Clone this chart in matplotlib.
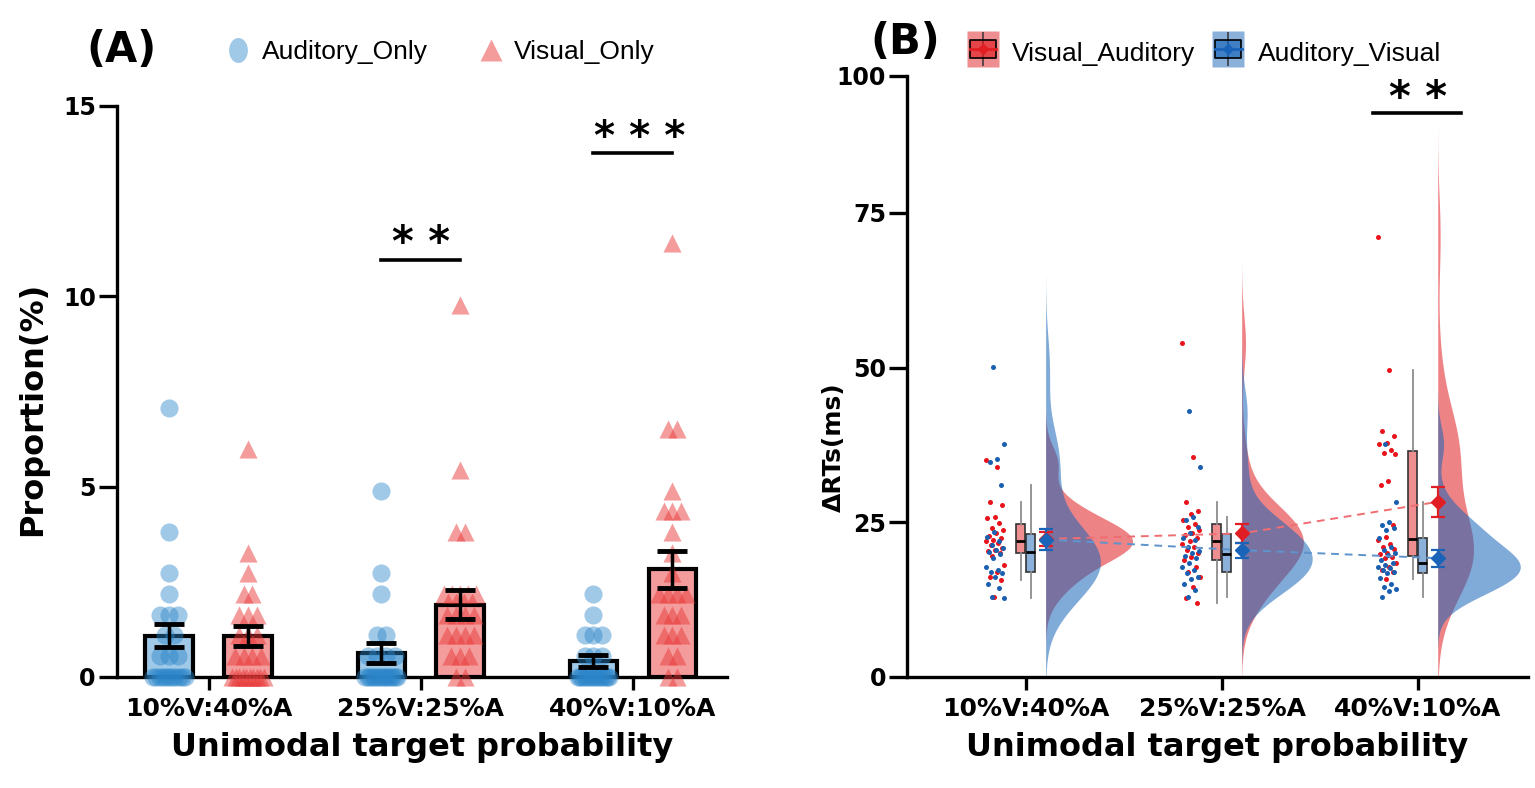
import numpy as np
import matplotlib.pyplot as plt
from matplotlib import mlab
from matplotlib.lines import Line2D
from matplotlib.path import Path
from matplotlib.transforms import Affine2D
from matplotlib.legend_handler import HandlerTuple
from matplotlib.font_manager import FontProperties
from matplotlib.colors import to_rgba

categories = ['10%V:40%A', '25%V:25%A', '40%V:10%A']

# ---- panel A : proportion of unimodal responses (%) ----
aud_only = [
    [7.07, 3.80, 2.72, 2.17, 1.63, 1.63, 1.63, 1.09, 1.09, 0.54, 0.54, 0.54,
     0, 0, 0, 0, 0, 0, 0, 0, 0, 0, 0],
    [4.89, 2.72, 2.17, 1.09, 1.09, 0.54, 0.54, 0.54, 0.54,
     0, 0, 0, 0, 0, 0, 0, 0, 0, 0, 0, 0, 0, 0],
    [2.17, 1.63, 1.09, 1.09, 1.09, 0.54, 0.54, 0.54,
     0, 0, 0, 0, 0, 0, 0, 0, 0, 0, 0, 0, 0, 0],
]
vis_only = [
    [5.98, 3.26, 2.72, 2.17, 2.17, 1.63, 1.63, 1.63, 1.09, 1.09, 1.09,
     0.54, 0.54, 0.54, 0.54, 0, 0, 0, 0, 0, 0, 0, 0, 0, 0],
    [9.78, 5.43, 3.80, 3.80, 2.17, 2.17, 2.17, 2.17, 2.17, 1.63, 1.63, 1.63,
     1.63, 1.09, 1.09, 1.09, 1.09, 0.54, 0.54, 0.54, 0, 0],
    [11.41, 6.52, 6.52, 4.89, 4.35, 4.35, 4.35, 3.80, 3.26, 2.72, 2.17, 2.17,
     2.17, 2.17, 1.63, 1.63, 1.63, 1.09, 1.09, 1.09, 0.54, 0.54, 0, 0],
]
aud_mean = [1.08, 0.63, 0.41]
aud_sem = [0.30, 0.25, 0.16]
vis_mean = [1.08, 1.90, 2.83]
vis_sem = [0.27, 0.39, 0.48]

# ---- panel B : delta RTs (ms) ----
va_rt = [
    [35.1, 34.0, 28.2, 27.8, 25.9, 25.7, 24.9, 24.1, 23.7, 23.2, 22.8, 22.4, 22.2,
     21.9, 21.6, 21.3, 20.8, 20.5, 20.3, 20.0, 19.6, 18.1, 17.0, 16.2, 15.7, 13.0],
    [53.9, 35.6, 28.2, 26.9, 26.4, 25.4, 24.8, 24.3, 23.7, 23.2, 22.9, 22.4, 21.9,
     21.5, 21.0, 20.5, 20.0, 19.4, 18.9, 17.8, 17.0, 16.2, 14.6, 12.7, 11.9],
    [71.1, 49.6, 39.7, 38.9, 37.8, 37.6, 36.7, 36.2, 36.1, 31.7, 31.0, 24.5, 22.6,
     22.1, 21.5, 21.0, 20.7, 20.0, 19.8, 19.4, 19.2, 18.4, 17.8, 17.3, 17.0, 15.9],
]
av_rt = [
    [50.1, 37.6, 35.3, 34.8, 31.0, 23.4, 22.7, 21.9, 21.4, 20.8, 20.5, 20.2, 19.9,
     19.3, 17.8, 17.3, 17.0, 16.8, 16.2, 15.1, 14.3, 13.0, 12.7],
    [43.0, 34.0, 25.8, 25.4, 24.3, 23.2, 22.5, 22.1, 21.0, 20.4, 20.0, 19.6, 19.2,
     18.4, 17.8, 17.3, 16.8, 16.2, 15.9, 15.1, 14.1, 13.0],
    [37.6, 28.2, 25.1, 24.6, 24.0, 23.8, 22.4, 21.0, 20.5, 20.0, 19.7, 18.9, 18.4,
     18.1, 17.8, 17.6, 17.3, 17.0, 16.8, 16.0, 15.1, 14.6, 14.2, 13.9, 13.0],
]
va_mean = [22.3, 23.2, 28.3]
va_sem = [1.1, 1.5, 2.45]
av_mean = [22.2, 20.5, 19.2]
av_sem = [1.75, 1.2, 1.35]

BLUE = '#2C86CA'
RED = '#EA3B3B'
DOT_RED = '#E8141B'
DOT_BLUE = '#1B5FB0'
VRED = '#E11E23'
VBLUE = '#1964B9'

plt.rcParams['font.family'] = ['DejaVu Sans']
plt.rcParams['font.weight'] = 'bold'
plt.rcParams['axes.labelweight'] = 'bold'

fig = plt.figure(figsize=(15.35, 7.88), dpi=100)
axA = fig.add_axes([0.0760, 0.1409, 0.3976, 0.7246])
axB = fig.add_axes([0.5909, 0.1409, 0.4046, 0.7627])


def style_axis(ax):
    for s in ['top', 'right']:
        ax.spines[s].set_visible(False)
    for s in ['left', 'bottom']:
        ax.spines[s].set_linewidth(2.4)
    ax.tick_params(axis='y', length=13, width=2.4, labelsize=17, pad=2)
    ax.tick_params(axis='x', length=9.5, width=2.4, labelsize=18, pad=5)


def stack_offsets(vals, step, maxw):
    vals = np.asarray(vals)
    offs = np.zeros(len(vals))
    for u in np.unique(vals):
        idx = np.where(vals == u)[0]
        spread = min((len(idx) - 1) * step, maxw)
        offs[idx] = np.linspace(-spread / 2, spread / 2, len(idx))
    return offs


# ---------------- panel A ----------------
x = np.arange(len(categories))
off = 0.186
bar_w = 0.224
axA.bar(x - off, aud_mean, width=bar_w, facecolor=to_rgba(BLUE, 0.45),
        edgecolor='black', linewidth=3, zorder=2)
axA.bar(x + off, vis_mean, width=bar_w, facecolor=to_rgba(RED, 0.5),
        edgecolor='black', linewidth=3, zorder=2)
for i in range(len(categories)):
    a = np.array(aud_only[i])
    v = np.array(vis_only[i])
    axA.scatter(i - off + stack_offsets(a, 0.042, 0.15), a, s=170, marker='o',
                color=BLUE, alpha=0.45, linewidths=0, zorder=3, clip_on=False)
    axA.scatter(i + off + stack_offsets(v, 0.042, 0.15), v, s=170, marker='^',
                color=RED, alpha=0.5, linewidths=0, zorder=3, clip_on=False)
axA.errorbar(x - off, aud_mean, yerr=aud_sem, fmt='none', ecolor='black',
             elinewidth=2.5, capsize=11, capthick=3.5, zorder=5)
axA.errorbar(x + off, vis_mean, yerr=vis_sem, fmt='none', ecolor='black',
             elinewidth=2.5, capsize=11, capthick=3.5, zorder=5)

# significance marks
axA.plot([1 - off, 1 + off], [10.95, 10.95], color='black', lw=2.6)
axA.text(1, 11.05, '* *', ha='center', va='baseline', fontsize=30)
axA.plot([2 - off, 2 + off], [13.76, 13.76], color='black', lw=2.6)
axA.text(2.03, 13.86, '* * *', ha='center', va='baseline', fontsize=29)

axA.set_xlim(-0.433, 2.443)
axA.set_ylim(0, 15)
axA.set_yticks([0, 5, 10, 15])
axA.set_xticks(x)
axA.set_xticklabels(categories)
style_axis(axA)
axA.set_ylabel('Proportion(%)', fontsize=23)
axA.yaxis.set_label_coords(-0.112, 0.47)
axA.set_xlabel('Unimodal target probability', fontsize=23, labelpad=8)

# ---------------- panel B ----------------
def fwd(v):
    v = np.asarray(v, dtype=float)
    return np.where(v <= 75, v, 75 + (v - 75) * 0.885)


def inv(u):
    u = np.asarray(u, dtype=float)
    return np.where(u <= 75, u, 75 + (u - 75) / 0.885)


axB.set_yscale('function', functions=(fwd, inv))

dot_off = -0.158
box_off = [-0.028, 0.023]
mean_off = 0.10
violin_scale = 5.3
for i in range(len(categories)):
    for k, (data, dcol, vcol) in enumerate([(va_rt[i], DOT_RED, VRED),
                                            (av_rt[i], DOT_BLUE, VBLUE)]):
        data = np.array(data)
        # half violin from the library KDE
        kde = mlab.GaussianKDE(data, 'scott')
        bw = kde.factor * data.std(ddof=1)
        grid = np.linspace(max(0, data.min() - 3 * bw),
                           min(100, data.max() + 3 * bw), 300)
        dens = kde.evaluate(grid)
        axB.fill_betweenx(grid, i + mean_off, i + mean_off + dens * violin_scale,
                          color=vcol, alpha=0.55, lw=0, zorder=1)
        # jittered raw points
        j = np.arange(len(data))
        jit = (((j * 0.618034 + 0.37 * k) % 1) * 2 - 1) * 0.048
        axB.scatter(i + dot_off + jit, data, s=13, color=dcol, linewidths=0,
                    zorder=3)
        # box
        axB.boxplot([data], positions=[i + box_off[k]], widths=0.044,
                    patch_artist=True, showcaps=False, showfliers=False,
                    manage_ticks=False,
                    boxprops=dict(facecolor=to_rgba(vcol, 0.5),
                                  edgecolor='#333333', linewidth=1.2),
                    medianprops=dict(color='black', linewidth=2),
                    whiskerprops=dict(color='#8C8C8C', linewidth=1.3),
                    zorder=4)

xm = x + mean_off
axB.plot(xm, va_mean, ls=(0, (4, 3)), color='#EE6E72', lw=1.4, zorder=5)
axB.plot(xm, av_mean, ls=(0, (4, 3)), color='#5E93CC', lw=1.4, zorder=5)
axB.errorbar(xm, va_mean, yerr=va_sem, fmt='D', color=VRED, ms=7,
             elinewidth=1.6, capsize=5, capthick=1.6, zorder=6)
axB.errorbar(xm, av_mean, yerr=av_sem, fmt='D', color=VBLUE, ms=7,
             elinewidth=1.6, capsize=5, capthick=1.6, zorder=6)

axB.plot([2 - 0.23, 2 + 0.22], [93.2, 93.2], color='black', lw=2.6)
axB.text(2, 93.6, '* *', ha='center', va='baseline', fontsize=30)

axB.set_xlim(-0.607, 2.561)
axB.set_ylim(0, 100)
axB.set_yticks([0, 25, 50, 75, 100])
axB.set_xticks(x)
axB.set_xticklabels(categories)
style_axis(axB)
axB.set_ylabel('\u0394RTs(ms)', fontsize=18)
axB.yaxis.set_label_coords(-0.098, 0.383)
axB.set_xlabel('Unimodal target probability', fontsize=23, labelpad=8)

# ---------------- labels & legends ----------------
fig.text(121 / 1535, 1 - 50 / 788, '(A)', ha='center', va='center',
         fontsize=30, weight='bold')
fig.text(905 / 1535, 1 - 42 / 788, '(B)', ha='center', va='center',
         fontsize=30, weight='bold')

leg_font = FontProperties(family=['Liberation Sans', 'DejaVu Sans'],
                          size=19, weight='normal')
ellipse = Path.unit_circle().transformed(Affine2D().scale(0.75, 1.0))
hA = [Line2D([], [], ls='none', marker=ellipse, ms=18, mfc=to_rgba(BLUE, 0.45),
             mec='none'),
      Line2D([], [], ls='none', marker='^', ms=16, mfc=to_rgba(RED, 0.5),
             mec='none')]
fig.legend(hA, ['Auditory_Only', 'Visual_Only'], loc='center left',
           bbox_to_anchor=(229 / 1535, 1 - 52 / 788), ncol=2, frameon=False,
           prop=leg_font, handlelength=0.68, handletextpad=0.55,
           columnspacing=2.05, borderpad=0, borderaxespad=0)


def rect_path(w, h):
    return Path([(-w, -h), (w, -h), (w, h), (-w, h), (-w, -h)],
                [Path.MOVETO, Path.LINETO, Path.LINETO, Path.LINETO,
                 Path.CLOSEPOLY])


def box_handle(col):
    return (Line2D([], [], ls='none', marker=rect_path(0.86, 1.0), ms=26.5,
                   mfc=to_rgba(col, 0.5), mec='none'),
            Line2D([], [], ls='none', marker='|', ms=25, mew=1.1, color='#333333'),
            Line2D([], [], ls='none', marker=rect_path(1.0, 0.7), ms=19,
                   mfc=to_rgba(col, 0.65), mec='black', mew=1.2),
            Line2D([], [], color=col, lw=2, marker='D', ms=5))


fig.legend([box_handle(VRED), box_handle(VBLUE)],
           ['Visual_Auditory', 'Auditory_Visual'], loc='center left',
           bbox_to_anchor=(970 / 1535, 1 - 52 / 788), ncol=2, frameon=False,
           prop=leg_font, handlelength=1.0, handleheight=1.4,
           handletextpad=0.6, columnspacing=0.75, borderpad=0, borderaxespad=0,
           handler_map={tuple: HandlerTuple(ndivide=1, pad=0)})

fig.savefig('out.png', dpi=100)
